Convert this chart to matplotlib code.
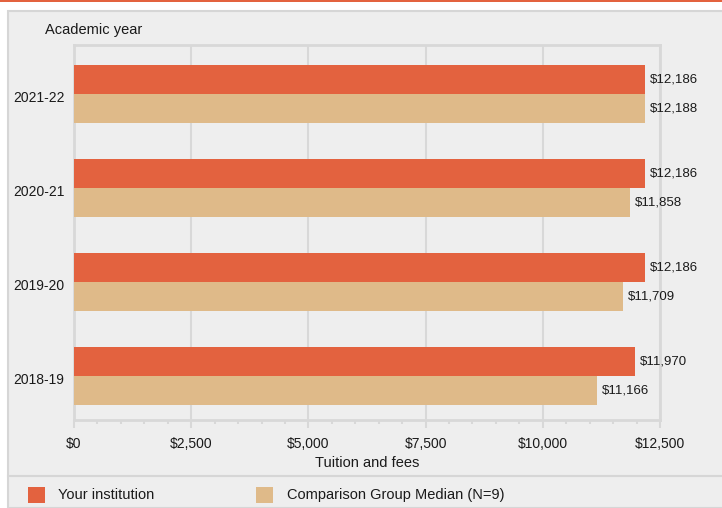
import matplotlib
matplotlib.use("Agg")
import matplotlib.pyplot as plt
from matplotlib.patches import Rectangle
from matplotlib.lines import Line2D
from matplotlib.ticker import MultipleLocator, FuncFormatter
import numpy as np

plt.rcParams['font.family'] = ['Liberation Sans', 'DejaVu Sans']

years = ["2021-22", "2020-21", "2019-20", "2018-19"]
institution = [12186, 12186, 12186, 11970]
comparison = [12188, 11858, 11709, 11166]
series_names = ["Your institution", "Comparison Group Median (N=9)"]
xticks = [0, 2500, 5000, 7500, 10000, 12500]

ORANGE = "#E3623F"
TAN = "#DFBA89"
PANEL = "#EEEEEE"
GRID = "#D8D8D8"
TXT = "#1a1a1a"

W, H = 722, 508
fig = plt.figure(figsize=(W / 100, H / 100), dpi=100, facecolor="white")

def fx(px):
    return px / W

def fy(py):
    return 1 - py / H

# top orange rule
fig.add_artist(Rectangle((0, fy(2)), 1, 2 / H, transform=fig.transFigure,
                         facecolor=ORANGE, edgecolor="none", zorder=-10))
# gray panel
fig.add_artist(Rectangle((fx(8), 0), 1, fy(11), transform=fig.transFigure,
                         facecolor=PANEL, edgecolor="#D6D6D6", linewidth=1.5, zorder=-10))
# legend separator
fig.add_artist(Line2D([fx(8), 1], [fy(476), fy(476)], transform=fig.transFigure,
                      color="#D6D6D6", linewidth=1.5, zorder=-9))

ax = fig.add_axes([fx(74), fy(420), fx(660) - fx(74), fy(45) - fy(420)])
ax.set_facecolor(PANEL)

y = np.arange(len(years))
h = 0.31
ax.barh(y - h / 2, institution, height=h, color=ORANGE, zorder=3)
ax.barh(y + h / 2, comparison, height=h, color=TAN, zorder=3)

for yi, v in zip(y, institution):
    ax.text(v + 100, yi - h / 2, f"${v:,}", va="center", ha="left", fontsize=9.5, color=TXT)
for yi, v in zip(y, comparison):
    ax.text(v + 100, yi + h / 2, f"${v:,}", va="center", ha="left", fontsize=9.5, color=TXT)

ax.set_xlim(0, 12500)
ax.set_ylim(len(years) - 0.532, -0.52)
ax.set_yticks(y + 0.03)
ax.set_yticklabels(years)
ax.set_xticks(xticks)
ax.xaxis.set_minor_locator(MultipleLocator(500))
ax.xaxis.set_major_formatter(FuncFormatter(lambda v, p: f"${int(v):,}"))

ax.tick_params(axis="y", length=0, pad=7, labelsize=10, labelcolor=TXT)
ax.tick_params(axis="x", which="major", length=6, width=1.5, color=GRID, pad=6,
               labelsize=10, labelcolor=TXT)
ax.tick_params(axis="x", which="minor", length=3, width=1.5, color=GRID)

ax.grid(axis="x", which="major", color=GRID, linewidth=1.5, zorder=0)
ax.set_axisbelow(True)
for s in ax.spines.values():
    s.set_color(GRID)
    s.set_linewidth(2)

ax.set_xlabel("Tuition and fees", fontsize=10.5, color=TXT, labelpad=4)
fig.text(fx(45), fy(30), "Academic year", ha="left", va="center", fontsize=10.5, color=TXT)

# legend
fig.add_artist(Rectangle((fx(28), fy(503)), 17 / W, 16 / H, transform=fig.transFigure,
                         facecolor=ORANGE, edgecolor="none"))
fig.text(fx(58), fy(495), series_names[0], ha="left", va="center", fontsize=10.5, color=TXT)
fig.add_artist(Rectangle((fx(256), fy(503)), 17 / W, 16 / H, transform=fig.transFigure,
                         facecolor=TAN, edgecolor="none"))
fig.text(fx(287), fy(495), series_names[1], ha="left", va="center", fontsize=10.5, color=TXT)

fig.savefig("out.png", dpi=100, facecolor="white")
